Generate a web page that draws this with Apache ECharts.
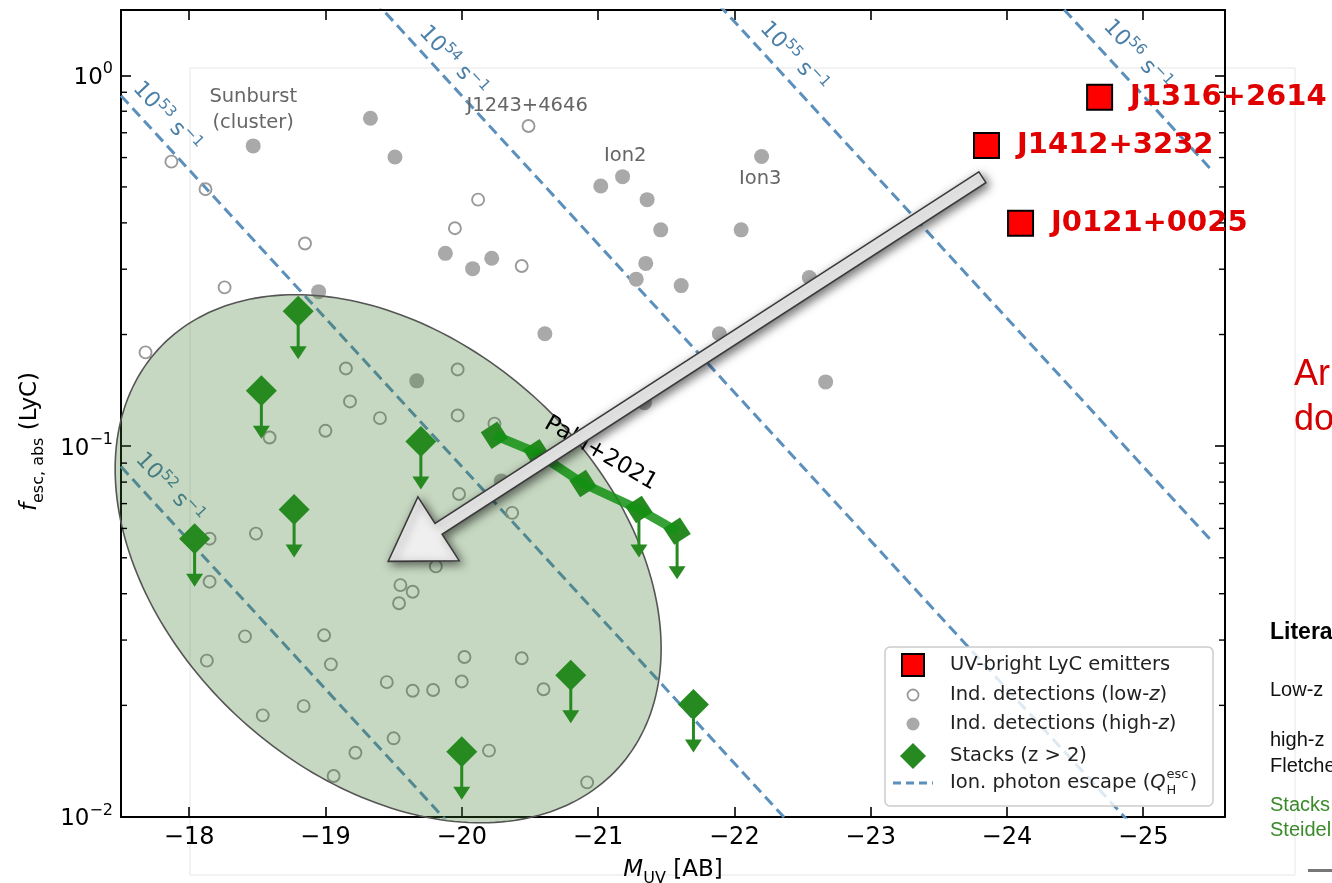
<!DOCTYPE html>
<html><head><meta charset="utf-8">
<script src="https://cdn.jsdelivr.net/npm/echarts@6/dist/echarts.min.js"></script>
<style>html,body{margin:0;padding:0;background:#fff}#c{width:1332px;height:883px}</style>
</head><body><div id="c"></div>
<script>
// ---------------- DATA ----------------
const X_MIN = -25.6, X_MAX = -17.5;
const Y_MIN = 0.01, Y_MAX = 1.5;
const X_TICKS = [-18, -19, -20, -21, -22, -23, -24, -25];
const Y_MINOR_TICKS = [0.02,0.03,0.04,0.05,0.06,0.07,0.08,0.09,0.2,0.3,0.4,0.5,0.6,0.7,0.8,0.9];

// UV-bright LyC emitters
const UVB_NAMES = ['J1316+2614', 'J1412+3232', 'J0121+0025'];
const UVB_M = [-24.68, -23.85, -24.10];
const UVB_F = [0.873, 0.647, 0.399];

// Individual detections, low-z (open circles)
const LOWZ_M = [-17.87,-18.12,-18.85,-20.49,-20.12,-19.95,-20.44,-18.26,-17.68,-19.15,-19.97,-19.18,-19.40,-19.97,-20.24,-18.59,-19.00,-19.98,-20.37,-19.81,-18.15,-18.49,-18.15,-19.55,-19.64,-19.54,-18.41,-18.99,-18.13,-19.04,-20.02,-20.44,-19.45,-19.64,-19.79,-20.00,-20.60,-18.54,-18.84,-19.50,-19.22,-19.06,-20.20,-20.92];
const LOWZ_F = [0.585,0.493,0.352,0.730,0.462,0.387,0.306,0.268,0.179,0.162,0.161,0.132,0.119,0.121,0.115,0.1055,0.110,0.0743,0.0661,0.0474,0.0563,0.0581,0.0431,0.0422,0.0405,0.0377,0.0307,0.0309,0.0264,0.0258,0.0270,0.0268,0.0231,0.0219,0.0220,0.0232,0.0221,0.0188,0.0199,0.0163,0.0149,0.0129,0.0151,0.0124];

// Individual detections, high-z (filled circles)
const HIGHZ_M = [-18.47,-19.33,-19.51,-19.88,-20.08,-20.22,-18.95,-21.02,-21.18,-21.36,-21.46,-21.35,-21.28,-21.61,-22.20,-22.05,-22.55,-21.89,-22.67,-21.34,-20.61,-19.67,-20.29];
const HIGHZ_F = [0.645,0.766,0.602,0.331,0.301,0.321,0.261,0.503,0.533,0.462,0.383,0.311,0.282,0.271,0.604,0.383,0.285,0.201,0.149,0.131,0.201,0.150,0.0806];

// Stacks (z > 2), all upper limits
const STACK_M = [-18.80, -18.53, -19.70, -18.77, -18.04, -20.00, -20.80, -21.70];
const STACK_F = [0.231, 0.141, 0.103, 0.0675, 0.0563, 0.0150, 0.0241, 0.0201];
// Pahl+2021 stacks
const PAHL_M = [-20.24, -20.55, -20.89, -21.30, -21.58];
const PAHL_F = [0.107, 0.096, 0.0793, 0.0675, 0.059];
const PAHL_UPPER = [false, false, false, true, true];

// Ionizing photon escape lines (Q_H^esc = 10^N s^-1), end points
const QESC_EXP = [52, 53, 54, 55, 56];
const QESC_M_START = -17.5, QESC_M_END = -25.5;
const QESC_F_START = [0.0881, 0.881, 8.81, 88.1, 881];
const QESC_F_END = [5.56e-5, 5.56e-4, 5.56e-3, 0.0556, 0.556];
const QESC_LABEL_M = [-17.86, -17.84, -19.94, -22.44, -24.96];
const QESC_LABEL_F = [0.0774, 0.775, 1.098, 1.125, 1.14];

// Text annotations
const ANNOT_TEXT = ['Sunburst\n(cluster)', 'J1243+4646', 'Ion2', 'Ion3'];
const ANNOT_M = [-18.47, -20.48, -21.20, -22.19];
const ANNOT_F = [0.805, 0.825, 0.605, 0.524];
const PAHL_LABEL = 'Pahl+2021';
const PAHL_LABEL_POS = [-21.02, 0.0956];

// Shaded region and big arrow
const ELLIPSE_CENTER = [-19.46, 0.0497];
const ARROW_TAIL = [-23.82, 0.531];
const ARROW_TIP = [-19.46, 0.0489];

// ---------------- STYLE ----------------
const FONT = 'DejaVu Sans';
const GREEN = '#268a20';
const QCOL = '#5b8fbc';
const QTXT = '#4a7fa8';
const zip = (a, b) => a.map((v, i) => [v, b[i]]);

const chart = echarts.init(document.getElementById('c'), null, {renderer: 'canvas'});

const mctx = document.createElement('canvas').getContext('2d');
function tw(text, size, style) { mctx.font = (style || '') + ' ' + size + 'px "' + FONT + '"'; return mctx.measureText(text).width; }

const axisLineStyle = {color: '#000', width: 2};
function xAxisDef(pos, showLabel) {
  return {
    type: 'value', position: pos, min: X_MIN, max: X_MAX, inverse: true,
    axisLine: {show: true, onZero: false, lineStyle: axisLineStyle},
    axisTick: {show: true, inside: true, length: 10, lineStyle: {color: '#000', width: 1.6}, customValues: X_TICKS},
    axisLabel: {show: showLabel, customValues: X_TICKS, margin: 9, color: '#000', fontSize: 24, fontFamily: FONT,
      formatter: v => (v < 0 ? '\u2212' : '') + Math.abs(v)},
    splitLine: {show: false}
  };
}
function yAxisDef(pos, showLabel) {
  return {
    type: 'log', logBase: 10, position: pos, min: Y_MIN, max: Y_MAX,
    axisLine: {show: true, onZero: false, lineStyle: axisLineStyle},
    axisTick: {show: true, inside: true, length: 10, lineStyle: {color: '#000', width: 1.6}},
    axisLabel: {show: showLabel, margin: 8, showMinLabel: true, showMaxLabel: false, color: '#000', fontFamily: FONT,
      formatter: v => {
        const l = Math.log10(v), e = Math.round(l);
        if (Math.abs(l - e) > 1e-6) return '';
        return '{b|10}{p|' + (e < 0 ? '\u2212' + (-e) : e) + '}';
      },
      rich: {
        b: {fontSize: 23, fontFamily: FONT, color: '#000', verticalAlign: 'bottom'},
        p: {fontSize: 16, fontFamily: FONT, color: '#000', verticalAlign: 'bottom', padding: [0, 0, 12, 0]}
      }},
    splitLine: {show: false}
  };
}

const titleRich = {
  i: {fontSize: 23, fontStyle: 'italic', fontFamily: FONT, color: '#000', verticalAlign: 'bottom', padding: [0, 0, 5, 0]},
  s: {fontSize: 16, fontFamily: FONT, color: '#000', verticalAlign: 'bottom'},
  n: {fontSize: 23, fontFamily: FONT, color: '#000', verticalAlign: 'bottom', padding: [0, 0, 5, 0]}
};
const xa0 = xAxisDef('bottom', true);
xa0.name = '{i|M}{s|UV}{n| [AB]}';
xa0.nameLocation = 'middle';
xa0.nameGap = 42;
xa0.nameTextStyle = {rich: titleRich};
const ya0 = yAxisDef('left', true);
ya0.name = '{i|f}{s|esc, abs}{n| (LyC)}';
ya0.nameLocation = 'middle';
ya0.nameRotate = 90;
ya0.nameGap = 74;
ya0.nameTextStyle = {rich: titleRich, padding: [0, 56, 0, 0]};

// ---------------- SERIES ----------------
const series = [];

// Q lines
QESC_EXP.forEach((q, i) => {
  series.push({
    type: 'line', name: 'Q' + q, silent: true, z: 2, showSymbol: false, symbol: 'none',
    data: [[QESC_M_START, QESC_F_START[i]], [QESC_M_END, QESC_F_END[i]]],
    lineStyle: {color: QCOL, width: 3, type: [11, 6], opacity: 1}
  });
});
// Q labels
series.push({
  type: 'custom', name: 'Qlabels', z: 3, silent: true, clip: false,
  data: zip(QESC_LABEL_M, QESC_LABEL_F),
  renderItem: (params, api) => {
    const p = api.coord([api.value(0), api.value(1)]);
    const q = QESC_EXP[params.dataIndex];
    return {type: 'text', x: p[0], y: p[1], rotation: -47.3 * Math.PI / 180,
      style: {text: '{n|10}{p|' + q + '}{n| s}{p|\u22121}', align: 'center', verticalAlign: 'middle',
        rich: {n: {fontSize: 22, fontFamily: FONT, fill: QTXT, verticalAlign: 'bottom'},
               p: {fontSize: 15, fontFamily: FONT, fill: QTXT, verticalAlign: 'bottom', padding: [0, 0, 10, 0]}}}};
  }
});

// Low-z detections
series.push({type: 'scatter', name: 'lowz', z: 3, silent: true, symbol: 'circle', symbolSize: 12,
  data: zip(LOWZ_M, LOWZ_F), itemStyle: {color: 'rgba(0,0,0,0)', borderColor: '#9a9a9a', borderWidth: 1.9, opacity: 1}});
// High-z detections
series.push({type: 'scatter', name: 'highz', z: 3, silent: true, symbol: 'circle', symbolSize: 15,
  data: zip(HIGHZ_M, HIGHZ_F), itemStyle: {color: '#a9a9a9', opacity: 1}});

// Ellipse region
series.push({
  type: 'custom', name: 'region', z: 4, silent: true, clip: false,
  data: [ELLIPSE_CENTER],
  renderItem: (params, api) => {
    const c = api.coord([api.value(0), api.value(1)]);
    const A = 311, B = 218, th = 42.2 * Math.PI / 180, ct = Math.cos(th), st = Math.sin(th);
    const pts = [];
    for (let k = 0; k < 240; k++) {
      const t = 2 * Math.PI * k / 240, x = A * Math.cos(t), y = B * Math.sin(t);
      pts.push([c[0] + x * ct - y * st, c[1] + x * st + y * ct]);
    }
    return {type: 'polygon', shape: {points: pts}, style: {fill: 'rgba(60,120,40,0.29)', stroke: '#555', lineWidth: 1.6}};
  }
});

// Upper-limit arrows
const UL_DATA = zip(STACK_M, STACK_F).concat(zip(PAHL_M, PAHL_F).filter((d, i) => PAHL_UPPER[i]));
series.push({
  type: 'custom', name: 'upperlimits', z: 5, silent: true, clip: false,
  data: UL_DATA,
  renderItem: (params, api) => {
    const p = api.coord([api.value(0), api.value(1)]);
    const L = 48, hh = 13, hw = 8.5;
    return {type: 'group', children: [
      {type: 'line', shape: {x1: p[0], y1: p[1], x2: p[0], y2: p[1] + L - hh + 1}, style: {stroke: GREEN, lineWidth: 3}},
      {type: 'polygon', shape: {points: [[p[0] - hw, p[1] + L - hh], [p[0] + hw, p[1] + L - hh], [p[0], p[1] + L]]}, style: {fill: GREEN}}
    ]};
  }
});

// Stacks
series.push({type: 'scatter', name: 'stacks', z: 6, silent: true, symbol: 'diamond', symbolSize: 31,
  data: zip(STACK_M, STACK_F), itemStyle: {color: GREEN, opacity: 1}});
series.push({type: 'scatter', name: 'pahl', z: 6, silent: true, symbol: 'diamond', symbolSize: 28, symbolRotate: -12,
  data: zip(PAHL_M, PAHL_F), itemStyle: {color: GREEN, opacity: 1}});
series.push({type: 'line', name: 'pahlline', z: 7, silent: true, symbol: 'none', showSymbol: false,
  data: zip(PAHL_M, PAHL_F), lineStyle: {color: '#139013', width: 9, opacity: 0.85}});

// UV-bright emitters
series.push({type: 'scatter', name: 'uvb', z: 8, silent: true, symbol: 'rect', symbolSize: 25,
  data: UVB_M.map((m, i) => ({value: [m, UVB_F[i]], name: UVB_NAMES[i]})),
  itemStyle: {color: '#ff0000', borderColor: '#000', borderWidth: 2, opacity: 1},
  label: {show: true, position: 'right', distance: 17, formatter: p => p.name, color: '#e00000',
    fontSize: 29, fontWeight: 'bold', fontFamily: FONT}});

// Text annotations
series.push({
  type: 'custom', name: 'annot', z: 8, silent: true, clip: false,
  data: zip(ANNOT_M, ANNOT_F),
  renderItem: (params, api) => {
    const p = api.coord([api.value(0), api.value(1)]);
    return {type: 'text', x: p[0], y: p[1],
      style: {text: ANNOT_TEXT[params.dataIndex], align: 'center', verticalAlign: 'middle', fill: '#666',
        fontSize: 19.5, fontFamily: FONT, lineHeight: 26}};
  }
});
series.push({
  type: 'custom', name: 'pahllabel', z: 9, silent: true, clip: false,
  data: [PAHL_LABEL_POS],
  renderItem: (params, api) => {
    const p = api.coord([api.value(0), api.value(1)]);
    return {type: 'text', x: p[0], y: p[1], rotation: -30 * Math.PI / 180,
      style: {text: PAHL_LABEL, align: 'center', verticalAlign: 'middle', fill: '#000', fontSize: 23, fontFamily: FONT}};
  }
});

// Minor ticks on log axis (left and right)
series.push({
  type: 'custom', name: 'minorticks', z: 10, silent: true, clip: false,
  data: Y_MINOR_TICKS.map(v => [X_MAX, v]),
  renderItem: (params, api) => {
    const cs = params.coordSys;
    const y = api.coord([api.value(0), api.value(1)])[1];
    const l = cs.x, r = cs.x + cs.width;
    return {type: 'group', children: [
      {type: 'line', shape: {x1: l, y1: y, x2: l + 6, y2: y}, style: {stroke: '#000', lineWidth: 1.4}},
      {type: 'line', shape: {x1: r - 6, y1: y, x2: r, y2: y}, style: {stroke: '#000', lineWidth: 1.4}}
    ]};
  }
});

// Big arrow
series.push({
  type: 'custom', name: 'arrow', z: 20, silent: true, clip: false,
  dimensions: ['tm', 'tf', 'pm', 'pf'],
  encode: {x: [0, 2], y: [1, 3]},
  data: [[ARROW_TAIL[0], ARROW_TAIL[1], ARROW_TIP[0], ARROW_TIP[1]]],
  renderItem: (params, api) => {
    const T = api.coord([api.value(0), api.value(1)]);
    const P = api.coord([api.value(2), api.value(3)]);
    const dx = P[0] - T[0], dy = P[1] - T[1], L = Math.hypot(dx, dy);
    const ux = dx / L, uy = dy / L, nx = -uy, ny = ux;
    const w = 6.5, hw = 38, hl = 60;
    const Bx = P[0] - ux * hl, By = P[1] - uy * hl;
    const pts = [
      [T[0] + nx * w, T[1] + ny * w], [Bx + nx * w, By + ny * w], [Bx + nx * hw, By + ny * hw],
      [P[0], P[1]], [Bx - nx * hw, By - ny * hw], [Bx - nx * w, By - ny * w], [T[0] - nx * w, T[1] - ny * w]
    ];
    return {type: 'polygon', shape: {points: pts},
      style: {fill: '#efefef', stroke: '#3a3a3a', lineWidth: 1.5, shadowBlur: 10, shadowColor: 'rgba(0,0,0,0.55)', shadowOffsetX: 3, shadowOffsetY: 3}};
  }
});

// ---------------- LEGEND (graphic) ----------------
const LG_X = 950, LG_FS = 19.5, MK_X = 913;
const LG_ROWS = [665, 695, 724, 756, 783];
const lgText = (y, text, rich) => ({type: 'text', x: LG_X, y: y, z: 51,
  style: {text: text, fill: '#222', fontSize: LG_FS, fontFamily: FONT, align: 'left', verticalAlign: 'middle', rich: rich}});
const italicRich = {i: {fontStyle: 'italic', fontSize: LG_FS, fontFamily: FONT, fill: '#222'}};
const wIon = tw('Ion. photon escape (', LG_FS);
const wQ = tw('Q', LG_FS, 'italic');
const wEsc = tw('esc', 13);

const graphics = [
  // faint page frame
  {type: 'rect', z: 0, silent: true, shape: {x: 190, y: 68, width: 1105, height: 807}, style: {fill: 'none', stroke: '#e6e6e6', lineWidth: 1}},
  {type: 'rect', z: 0, silent: true, shape: {x: 1308, y: 869, width: 30, height: 3}, style: {fill: '#777'}},
  // legend box
  {type: 'rect', z: 50, shape: {x: 885, y: 647, width: 328, height: 159, r: 5}, style: {fill: 'rgba(255,255,255,0.8)', stroke: '#cccccc', lineWidth: 1.5}},
  {type: 'rect', z: 51, shape: {x: MK_X - 11, y: LG_ROWS[0] - 11, width: 22, height: 22}, style: {fill: '#ff0000', stroke: '#000', lineWidth: 2}},
  {type: 'circle', z: 51, shape: {cx: MK_X, cy: LG_ROWS[1], r: 5.5}, style: {fill: 'none', stroke: '#9a9a9a', lineWidth: 1.8}},
  {type: 'circle', z: 51, shape: {cx: MK_X, cy: LG_ROWS[2], r: 6.5}, style: {fill: '#a9a9a9'}},
  {type: 'polygon', z: 51, shape: {points: [[MK_X, LG_ROWS[3] - 13], [MK_X + 13, LG_ROWS[3]], [MK_X, LG_ROWS[3] + 13], [MK_X - 13, LG_ROWS[3]]]}, style: {fill: GREEN}},
  {type: 'line', z: 51, shape: {x1: 893, y1: LG_ROWS[4], x2: 933, y2: LG_ROWS[4]}, style: {stroke: QCOL, lineWidth: 3, lineDash: [8, 5]}},
  lgText(LG_ROWS[0], 'UV-bright LyC emitters'),
  lgText(LG_ROWS[1], 'Ind. detections (low-{i|z})', italicRich),
  lgText(LG_ROWS[2], 'Ind. detections (high-{i|z})', italicRich),
  lgText(LG_ROWS[3], 'Stacks (z > 2)'),
  lgText(LG_ROWS[4], 'Ion. photon escape ('),
  {type: 'text', z: 51, x: LG_X + wIon, y: LG_ROWS[4], style: {text: 'Q', fill: '#222', fontSize: LG_FS, fontStyle: 'italic', fontFamily: FONT, verticalAlign: 'middle'}},
  {type: 'text', z: 51, x: LG_X + wIon + wQ + 1, y: LG_ROWS[4] - 8, style: {text: 'esc', fill: '#222', fontSize: 13, fontFamily: FONT, verticalAlign: 'middle'}},
  {type: 'text', z: 51, x: LG_X + wIon + wQ + 1, y: LG_ROWS[4] + 8, style: {text: 'H', fill: '#222', fontSize: 13, fontFamily: FONT, verticalAlign: 'middle'}},
  {type: 'text', z: 51, x: LG_X + wIon + wQ + wEsc + 2, y: LG_ROWS[4], style: {text: ')', fill: '#222', fontSize: LG_FS, fontFamily: FONT, verticalAlign: 'middle'}},
  // cut-off text on the right
  {type: 'text', z: 1, x: 1294, y: 375, style: {text: 'Ar', fill: '#d40000', fontSize: 36, fontFamily: 'Liberation Sans', verticalAlign: 'middle'}},
  {type: 'text', z: 1, x: 1294, y: 420, style: {text: 'do', fill: '#d40000', fontSize: 36, fontFamily: 'Liberation Sans', verticalAlign: 'middle'}},
  {type: 'text', z: 1, x: 1270, y: 633, style: {text: 'Litera', fill: '#000', fontSize: 23, fontWeight: 'bold', fontFamily: 'Liberation Sans', verticalAlign: 'middle'}},
  {type: 'text', z: 1, x: 1270, y: 690, style: {text: 'Low-z', fill: '#111', fontSize: 20, fontFamily: 'Liberation Sans', verticalAlign: 'middle'}},
  {type: 'text', z: 1, x: 1270, y: 740, style: {text: 'high-z', fill: '#111', fontSize: 20, fontFamily: 'Liberation Sans', verticalAlign: 'middle'}},
  {type: 'text', z: 1, x: 1270, y: 766, style: {text: 'Fletche', fill: '#111', fontSize: 20, fontFamily: 'Liberation Sans', verticalAlign: 'middle'}},
  {type: 'text', z: 1, x: 1270, y: 805, style: {text: 'Stacks', fill: '#3a8a2a', fontSize: 20, fontFamily: 'Liberation Sans', verticalAlign: 'middle'}},
  {type: 'text', z: 1, x: 1270, y: 830, style: {text: 'Steidel', fill: '#3a8a2a', fontSize: 20, fontFamily: 'Liberation Sans', verticalAlign: 'middle'}}
];

chart.setOption({
  animation: false,
  backgroundColor: '#fff',
  grid: {left: 121, right: 107, top: 10, bottom: 66, containLabel: false, outerBoundsMode: 'none'},
  xAxis: [xa0, xAxisDef('top', false)],
  yAxis: [ya0, yAxisDef('right', false)],
  series: series,
  graphic: graphics
});
</script>
</body></html>
